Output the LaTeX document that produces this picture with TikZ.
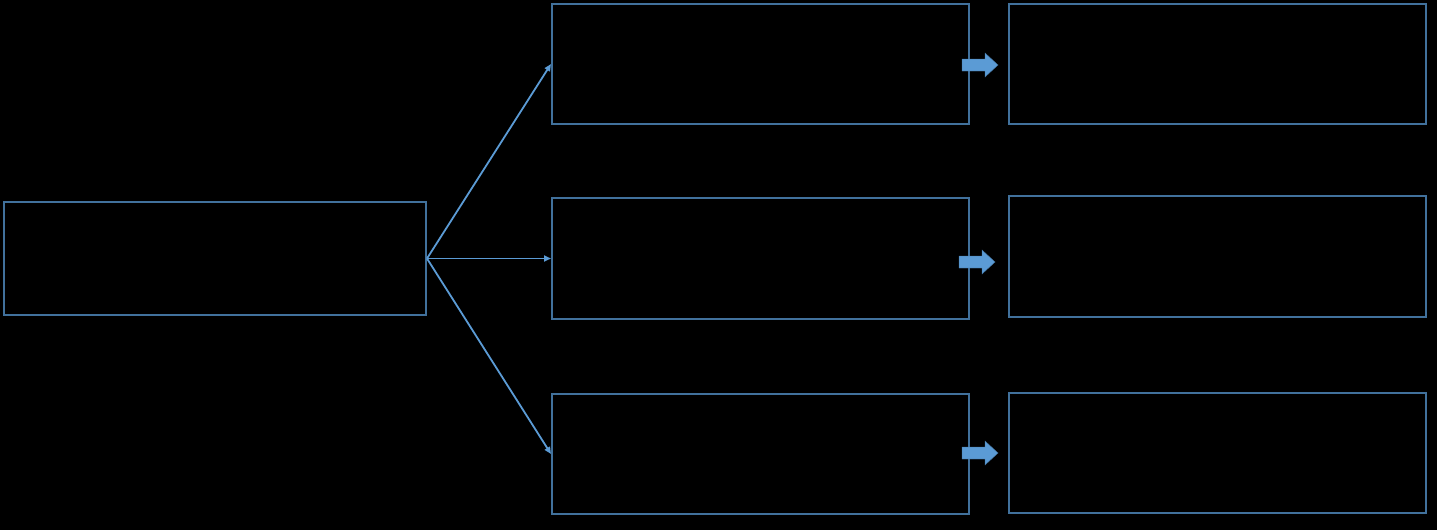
\documentclass[tikz,border=0pt]{standalone}
\usetikzlibrary{arrows.meta}
\definecolor{boxblue}{HTML}{41719C}
\definecolor{arrblue}{HTML}{5B9BD5}
\tikzset{
  box/.style={draw=boxblue, line width=2pt, minimum width=417pt, minimum height=120pt, inner sep=0pt},
  conn/.style={draw=arrblue, line width=1.8pt, -{Triangle[length=7pt,width=6pt]}},
  blockarrow/.pic={\filldraw[fill=arrblue, draw=boxblue, line width=0.4pt]
    (0,-6) -- (23,-6) -- (23,-12) -- (36,0) -- (23,12) -- (23,6) -- (0,6) -- cycle;}
}
\begin{document}
\begin{tikzpicture}[x=1pt,y=-1pt]
\fill[black] (0,0) rectangle (1437,530);
\useasboundingbox (0,0) rectangle (1437,530);
\node[box, minimum width=422pt, minimum height=113pt] (L) at (215,258.5) {};
\node[box] (A1) at (760.5,64) {};
\node[box, minimum height=121pt] (A2) at (760.5,258.5) {};
\node[box] (A3) at (760.5,454) {};
\node[box] (B1) at (1217.5,64) {};
\node[box, minimum height=121pt] (B2) at (1217.5,256.5) {};
\node[box] (B3) at (1217.5,453) {};
\draw[conn] (L.east) -- (A1.west);
\draw[conn] (L.east) -- (A2.west);
\draw[conn] (L.east) -- (A3.west);
\pic (R1) at (962,65) {blockarrow};
\pic (R2) at (959,262) {blockarrow};
\pic (R3) at (962,453) {blockarrow};
\end{tikzpicture}
\end{document}
